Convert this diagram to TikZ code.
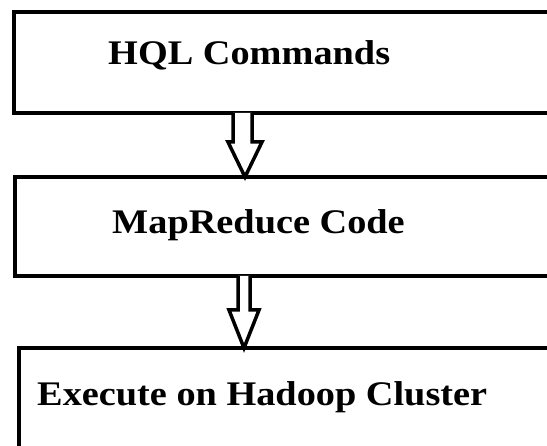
\documentclass[tikz,border=0pt]{standalone}
\usepackage{fontspec}
\setmainfont{Liberation Serif}
\begin{document}
\begin{tikzpicture}[x=1pt,y=-1pt,
  stage/.style={draw=black,line width=4.5pt,fill=white,rectangle,anchor=north west,
    inner sep=0pt,outer sep=0pt,minimum width=546pt},
  label/.style={anchor=base west,inner sep=0pt,xscale=1.11,
    font=\fontsize{34.5}{40}\selectfont\bfseries},
  hollow/.style={draw=black,line width=3.5pt,fill=white,line join=miter}]
  \useasboundingbox (0,0) rectangle (547,446);
  \clip (0,0) rectangle (547,446);
  % the three stages of the pipeline
  \node[stage,minimum height=101pt] (b1) at (14,12) {};
  \node[stage,minimum height=99pt]  (b2) at (15,177) {};
  \node[stage,minimum height=112pt] (b3) at (19,348) {};
  % stage captions
  \node[label] (t1) at (108,65)  {HQL Commands};
  \node[label] (t2) at (112,234) {MapReduce Code};
  \node[label] (t3) at (37,406)  {Execute on Hadoop Cluster};
  % hollow block arrows between stages
  \draw[hollow] (233,0 |- b1.south) -- (233,142) -- (228,142) -- (245,0 |- b2.north)
    -- (262,142) -- (252,142) -- (252,0 |- b1.south);
  \draw[hollow] (238,0 |- b2.south) -- (238,310) -- (229,310) -- (244,0 |- b3.north)
    -- (259,310) -- (250,310) -- (250,0 |- b2.south);
\end{tikzpicture}
\end{document}
